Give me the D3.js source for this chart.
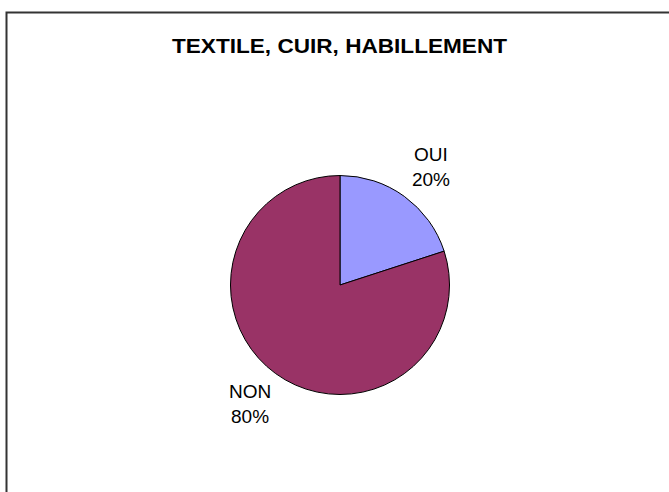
<!DOCTYPE html>
<html>
<head>
<meta charset="utf-8">
<script src="https://cdn.jsdelivr.net/npm/d3@7"></script>
<style>
  html, body { margin: 0; padding: 0; background: #fff; }
  svg { display: block; }
</style>
</head>
<body>
<svg id="chart" width="669" height="492"></svg>
<script>
const title = "TEXTILE, CUIR, HABILLEMENT";
const categories = ["OUI", "NON"];
const values = [20, 80];
const colors = ["#9999FF", "#993366"];

const svg = d3.select("#chart");
const W = 669, H = 492;

// chart frame (extends past the right and bottom edges)
svg.append("rect")
  .attr("x", 6.5).attr("y", 12.5)
  .attr("width", W + 20).attr("height", H + 20)
  .attr("fill", "#fff")
  .attr("stroke", "#333")
  .attr("stroke-width", 2);

svg.append("text")
  .attr("x", 339.5).attr("y", 53)
  .attr("text-anchor", "middle")
  .attr("font-family", "Liberation Sans, Arial, sans-serif")
  .attr("font-weight", "bold")
  .attr("font-size", 20)
  .attr("textLength", 335)
  .attr("lengthAdjust", "spacingAndGlyphs")
  .attr("fill", "#000")
  .text(title);

const cx = 340, cy = 285, r = 109.5;
const data = categories.map((c, i) => ({ cat: c, value: values[i], color: colors[i] }));
const pie = d3.pie().value(d => d.value).sort(null);
const arcs = pie(data);
const arc = d3.arc().innerRadius(0).outerRadius(r);

const g = svg.append("g").attr("transform", `translate(${cx},${cy})`);
g.selectAll("path.slice")
  .data(arcs)
  .join("path")
  .attr("class", "slice")
  .attr("d", arc)
  .attr("fill", d => d.data.color)
  .attr("stroke", "#000")
  .attr("stroke-width", 1);

// labels placed outside each slice, along its mid angle
const total = d3.sum(values);
const labelArc = d3.arc().innerRadius(r * 1.25).outerRadius(r * 1.25);
const labelOffsets = [[10.5, -13], [-9.5, 2.5]];
arcs.forEach((d, i) => {
  const [lx, ly] = labelArc.centroid(d);
  const t = g.append("text")
    .attr("text-anchor", "middle")
    .attr("font-family", "Liberation Sans, Arial, sans-serif")
    .attr("font-size", 19)
    .attr("fill", "#000");
  const x = lx + labelOffsets[i][0], y = ly + labelOffsets[i][1];
  t.append("tspan").attr("x", x).attr("y", y).text(d.data.cat);
  t.append("tspan").attr("x", x).attr("y", y + 25)
    .text(Math.round(d.data.value / total * 100) + "%");
});
</script>
</body>
</html>
